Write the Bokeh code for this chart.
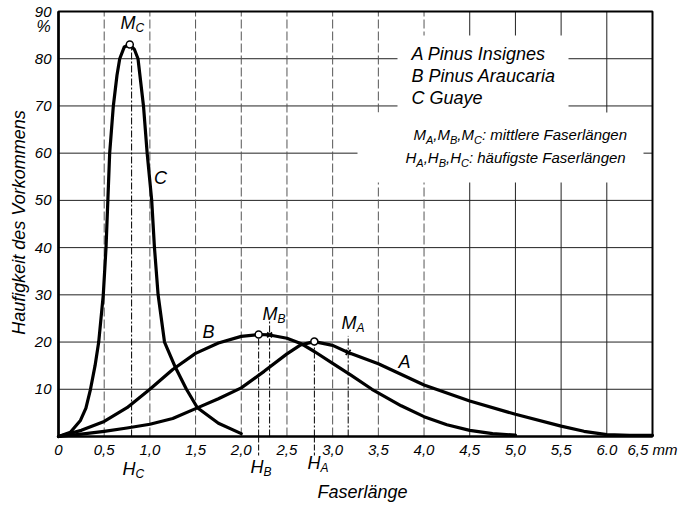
import math
from bokeh.plotting import figure
from bokeh.models import FixedTicker, Label, Range1d
from bokeh.embed import file_html
from bokeh.resources import INLINE

# ---------------- data ----------------
# A: Pinus Insignes
len_A = [0, 0.25, 0.5, 0.75, 1.0, 1.25, 1.5, 1.75, 2.0, 2.25, 2.5, 2.65, 2.8, 3.0, 3.17, 3.5, 4.0, 4.5, 5.0, 5.5, 5.75, 6.0, 6.25, 6.5]
freq_A = [0, 0.5, 1.1, 1.8, 2.6, 3.8, 5.9, 8.0, 10.3, 13.8, 17.5, 19.4, 20.1, 19.3, 17.8, 15.4, 10.9, 7.5, 4.7, 2.2, 1.1, 0.4, 0.25, 0.25]
# B: Pinus Araucaria
len_B = [0, 0.25, 0.5, 0.75, 1.0, 1.25, 1.5, 1.75, 2.0, 2.19, 2.31, 2.5, 2.65, 2.8, 3.0, 3.2, 3.43, 3.75, 4.0, 4.25, 4.5, 4.75, 5.0]
freq_B = [0, 1.3, 3.2, 6.1, 10.0, 14.2, 17.6, 19.8, 21.2, 21.6, 21.5, 20.8, 19.7, 18.0, 15.5, 13.0, 10.0, 6.5, 4.2, 2.5, 1.3, 0.6, 0.3]
# C: Guaye
len_C = [0, 0.13, 0.24, 0.3, 0.35, 0.4, 0.44, 0.49, 0.52, 0.54, 0.56, 0.6, 0.64, 0.67, 0.72, 0.78, 0.83, 0.87, 0.93, 0.97, 1.02, 1.05, 1.09, 1.16, 1.28, 1.4, 1.52, 1.75, 2.0]
freq_C = [0, 0.9, 3.4, 6.0, 10.0, 15.0, 20.0, 30.0, 40.0, 50.0, 60.0, 70.0, 76.5, 80.0, 82.5, 83.0, 82.0, 80.0, 70.0, 60.0, 50.0, 40.0, 30.0, 20.0, 14.6, 10.0, 6.1, 2.8, 0.6]

# mean (M) and most frequent (H) fibre lengths
mean_len = {"A": 3.17, "B": 2.31, "C": 0.78}
mean_freq = {"A": 17.8, "B": 21.5, "C": 83.0}
mode_len = {"A": 2.8, "B": 2.19, "C": 0.80}
mode_freq = {"A": 20.1, "B": 21.6, "C": 83.0}

x_ticks = [0, 0.5, 1.0, 1.5, 2.0, 2.5, 3.0, 3.5, 4.0, 4.5, 5.0, 5.5, 6.0, 6.5]
x_tick_labels = ["0", "0,5", "1,0", "1,5", "2,0", "2,5", "3,0", "3,5", "4,0", "4,5", "5,0", "5,5", "6.0", "6,5 mm"]
y_ticks = [10, 20, 30, 40, 50, 60, 70, 80, 90]
x_grid_dashed = [0.5, 1.0, 1.5, 2.0, 2.5, 3.0, 3.5, 4.0]
x_grid_solid = [4.5, 5.0, 5.5, 6.0]

legend_names = ["A  Pinus Insignes", "B  Pinus Araucaria", "C  Guaye"]

# ---------------- layout helpers (page pixels -> data) ----------------
W_PX, H_PX = 699, 507
X0_PAGE, X65_PAGE = 58.0, 652.0      # page x of 0 and 6.5 mm
Y0_PAGE, Y90_PAGE = 436.0, 11.0      # page y of 0 and 90 %
SX = (X65_PAGE - X0_PAGE) / 6.5
SY = (Y0_PAGE - Y90_PAGE) / 90.0


def X(px):
    return (px - X0_PAGE) / SX


def Y(py):
    return (Y0_PAGE - py) / SY


FONT = "Liberation Sans"
W = {"M": 833, "H": 722, "A": 667, "B": 667, "C": 722, ",": 278, " ": 278, ":": 278}

p = figure(width=W_PX, height=H_PX, output_backend="svg", toolbar_location=None,
           x_range=Range1d(X(0), X(W_PX)), y_range=Range1d(Y(H_PX), Y(0)),
           min_border_left=0, min_border_right=0, min_border_top=0, min_border_bottom=0,
           background_fill_color="white", border_fill_color="white")
p.outline_line_color = None
p.xgrid.visible = False
p.ygrid.visible = False

# grid lines
top = y_ticks[-1]
right = x_ticks[-1]
hy = y_ticks[:-1]
p.segment(x0=[0] * len(hy), y0=hy, x1=[right] * len(hy), y1=hy, line_color="#222", line_width=1)
p.segment(x0=x_grid_dashed, y0=[0] * len(x_grid_dashed), x1=x_grid_dashed, y1=[top] * len(x_grid_dashed),
          line_color="#555", line_width=1, line_dash="9 3")
p.segment(x0=x_grid_solid, y0=[0] * len(x_grid_solid), x1=x_grid_solid, y1=[top] * len(x_grid_solid),
          line_color="#222", line_width=1)

# masks behind the legend text (the grid is interrupted there)
p.quad(left=[X(397), X(357)], right=[X(568), X(643)], bottom=[Y(125), Y(182)], top=[Y(35), Y(112)],
       fill_color="white", line_color=None)

# frame
p.quad(left=[0], right=[right], bottom=[0], top=[top], fill_color=None, line_color="black", line_width=2)

# axes fixed at the origin
xa = p.xaxis[0]
xa.fixed_location = 0
xa.bounds = (0, right)
xa.ticker = FixedTicker(ticks=x_ticks)
xa.major_label_overrides = {t: l for t, l in zip(x_ticks, x_tick_labels)}
xa.major_label_standoff = 4
xa.axis_line_width = 2
ya = p.yaxis[0]
ya.fixed_location = 0
ya.bounds = (0, top)
ya.ticker = FixedTicker(ticks=y_ticks)
ya.major_label_standoff = 7
ya.axis_line_width = 2.5
for ax in (xa, ya):
    ax.major_tick_out = 0
    ax.major_tick_in = 0
    ax.minor_tick_out = 0
    ax.minor_tick_in = 0
    ax.axis_line_color = "black"
    ax.major_label_text_font = FONT
    ax.major_label_text_font_style = "italic"
    ax.major_label_text_font_size = "15px"
    ax.major_label_text_color = "black"

# vertical dash-dot lines for M and H
seg_x = [mode_len["C"], mode_len["B"], mean_len["B"], mode_len["A"], mean_len["A"]]
seg_top = [mode_freq["C"], mode_freq["B"], mean_freq["B"] + 3.0, mode_freq["A"], mean_freq["A"] + 3.5]
p.segment(x0=seg_x, y0=[0] * len(seg_x), x1=seg_x, y1=seg_top,
          line_color="black", line_width=1, line_dash="7 2 2 2")
# short stubs below the axis at H_B and H_A
stub_x = [mode_len["B"], mode_len["A"]]
p.segment(x0=stub_x, y0=[0, 0], x1=stub_x, y1=[Y(455), Y(455)], line_color="black", line_width=1,
          line_dash="6 2")

# curves
for xs, ys in ((len_A, freq_A), (len_B, freq_B), (len_C, freq_C)):
    p.line(xs, ys, line_color="black", line_width=3.2, line_join="round", line_cap="round")

# markers
p.scatter(x=[mode_len["A"], mode_len["B"], mean_len["C"]], y=[mode_freq["A"], mode_freq["B"], mean_freq["C"]],
          marker="circle", size=7, fill_color="white", line_color="black", line_width=1.5)
p.scatter(x=[mean_len["A"], mean_len["B"]], y=[mean_freq["A"], mean_freq["B"]],
          marker="x", size=7, line_color="black", line_width=1.8)


def lab(px, py, text, size=18, align="left", angle=0.0, yoff=0, xoff=0):
    p.add_layout(Label(x=X(px), y=Y(py), x_offset=xoff, y_offset=yoff, text=text, text_font=FONT,
                       text_font_style="italic", text_font_size=f"{size}px", text_color="black",
                       text_align=align, text_baseline="middle", angle=angle))


def adv(s, size):
    return sum(W.get(ch, 556) for ch in s) * size / 1000.0


def rich(px, py, parts, size=18, sub=12):
    off = 0.0
    for txt, is_sub in parts:
        fs = sub if is_sub else size
        lab(px, py, txt, size=fs, yoff=-5 if is_sub else 0, xoff=off)
        off += adv(txt, fs)


# axis titles and unit
lab(18, 222, "Haufigkeit des Vorkommens", size=18, align="center", angle=math.pi / 2)
lab(362, 491, "Faserlänge", size=18, align="center")
lab(43, 26, "%", size=16, align="center")

# curve letters
lab(404, 361, "A", align="center")
lab(208, 331, "B", align="center")
lab(160, 177, "C", align="center")

# M and H labels
rich(120, 22, [("M", 0), ("C", 1)])
rich(262, 313, [("M", 0), ("B", 1)])
rich(341, 322, [("M", 0), ("A", 1)])
rich(122, 468, [("H", 0), ("C", 1)])
rich(250, 466, [("H", 0), ("B", 1)])
rich(307, 462, [("H", 0), ("A", 1)])

# legend text
for name, py in zip(legend_names, [53, 75, 97]):
    lab(411, py, name, size=18)
rich(413, 134, [("M", 0), ("A", 1), (",", 0), ("M", 0), ("B", 1), (",", 0), ("M", 0), ("C", 1),
                (" : mittlere Faserlängen", 0)], size=15, sub=11)
rich(405, 157, [("H", 0), ("A", 1), (",", 0), ("H", 0), ("B", 1), (",", 0), ("H", 0), ("C", 1),
                (": häufigste Faserlängen", 0)], size=15, sub=11)

open("out.html", "w").write(file_html(p, INLINE))
